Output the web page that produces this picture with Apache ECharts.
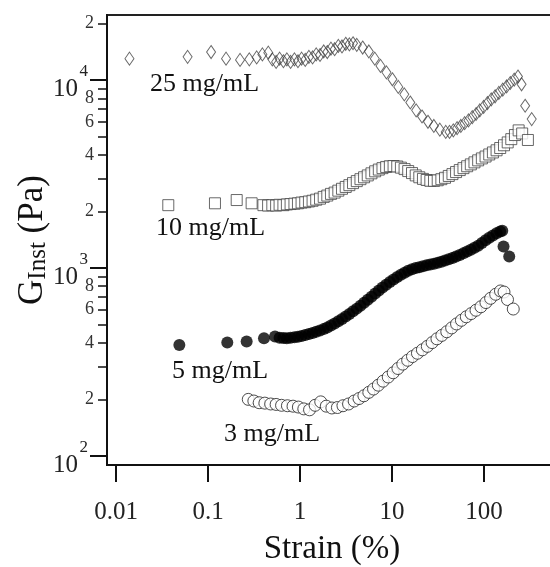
<!DOCTYPE html>
<html>
<head>
<meta charset="utf-8">
<script src="https://cdn.jsdelivr.net/npm/echarts@6/dist/echarts.min.js"></script>
<style>html,body{margin:0;padding:0;background:#fff}#chart{width:550px;height:567px}</style>
</head>
<body>
<div id="chart"></div>
<script>
// ---------- data (strain %, G_Inst Pa) ----------
const strain25 = [0.0140,0.060,0.108,0.157,0.223,0.281,0.338,0.39,0.452,
  0.50,0.55,0.60,0.66,0.72,0.79,0.87,0.95,1.04,1.14,1.25,1.37,1.50,1.65,1.81,1.98,2.17,2.38,2.61,2.86,3.14,3.44,3.77,
  4.14,4.8,5.6,6.5,7.5,8.7,10.1,11.7,13.6,15.8,18.3,21.2,24.6,28.5,33.1,38.4,
  42.2,46.4,51,56,61.6,67.8,74.6,82,90,99,109,120,132,145,160,176,193,213,234,256,280,330];
const g25 = [13000,13300,14100,13000,12800,12900,13200,13700,14000,
  12900,12500,13000,12600,12900,12500,12900,12600,13000,12800,13300,13200,13700,13600,14200,14100,14700,14600,15200,15100,15600,15500,15700,
  15400,14900,14200,13000,11900,11000,10100,9200,8400,7600,6900,6400,6000,5700,5450,5300,
  5300,5400,5550,5700,5900,6100,6350,6600,6900,7200,7550,7900,8200,8550,8900,9250,9650,10050,10450,9500,7300,6200];

const strain10 = [0.037,0.119,0.205,0.298,0.40,
  0.45,0.50,0.55,0.60,0.66,0.72,0.79,0.87,0.95,1.04,1.14,1.25,1.37,1.50,1.65,1.81,1.98,2.17,2.38,2.61,2.86,3.14,3.44,3.77,
  4.14,4.54,4.97,5.45,5.98,6.56,7.19,7.88,8.64,9.48,10.4,11.4,12.5,13.7,15.0,16.5,18.1,19.8,21.7,23.8,26.1,28.6,31.4,34.4,37.7,
  41.4,45.4,49.7,54.5,59.8,65.6,71.9,78.8,86.4,94.8,104,114,125,137,150,165,181,198,217,238,260,300];
const g10 = [2160,2210,2300,2210,2160,
  2150,2160,2150,2170,2160,2180,2190,2200,2210,2230,2240,2260,2280,2310,2340,2390,2430,2480,2520,2580,2640,2700,2760,2830,
  2900,2970,3040,3110,3190,3270,3340,3400,3450,3480,3490,3470,3420,3360,3280,3200,3110,3040,2980,2940,2910,2910,2930,2970,3020,
  3090,3160,3240,3320,3400,3480,3560,3650,3740,3830,3920,4020,4120,4230,4350,4500,4660,4850,5100,5400,5200,4800];

const strain5 = [0.0488,0.162,0.263,0.406,0.535,
  0.60,0.66,0.72,0.79,0.87,0.95,1.04,1.14,1.25,1.37,1.50,1.65,1.81,1.98,2.17,2.38,2.61,2.86,3.14,3.44,3.77,
  4.14,4.54,4.97,5.45,5.98,6.56,7.19,7.88,8.64,9.48,10.4,11.4,12.5,13.7,15.0,16.5,18.1,19.8,21.7,23.8,26.1,28.6,31.4,34.4,37.7,
  41.4,45.4,49.7,54.5,59.8,65.6,71.9,78.8,86.4,94.8,104,114,125,137,150,158,163,188];
const g5 = [389,401,406,423,432,
  425,424,423,425,428,431,435,440,445,451,458,465,473,482,494,507,521,536,552,569,588,
  608,630,653,678,704,731,759,787,815,843,870,896,921,945,966,986,1000,1010,1022,1033,1043,1054,1066,1080,1096,
  1113,1132,1152,1174,1198,1224,1252,1282,1314,1360,1405,1448,1490,1530,1565,1580,1300,1150];

const strain3 = [0.274,0.315,0.36,0.415,0.48,0.55,0.63,0.73,0.84,0.96,1.10,1.27,1.46,1.68,1.93,2.22,2.55,2.93,3.37,3.88,
  4.38,4.95,5.6,6.3,7.1,8.0,9.1,10.3,11.6,13.1,14.8,16.7,18.9,21.4,24.2,27.3,30.8,34.8,39.4,44.5,50.3,56.8,64.2,72.5,81.9,92.6,
  105,118,134,151,165,180,208];
const g3 = [200,196,192,191,189,188,186,185,184,182,178,176,186,194,184,180,181,185,189,196,
  202,209,218,227,238,250,263,277,292,308,323,338,352,367,383,401,420,438,458,480,504,527,550,572,596,622,
  655,690,725,755,745,680,605];

const seriesNames = ['25 mg/mL','10 mg/mL','5 mg/mL','3 mg/mL'];

// ---------- axes ----------
const xRange = [0.00798, 1000];
const yRange = [89.5, 22200];
const xTickValues = [0.01, 0.1, 1, 10, 100];
const xTickLabels = ['0.01', '0.1', '1', '10', '100'];
const yMajorValues = [100, 1000, 10000];
const yMajorBase = ['10', '10', '10'];
const yMajorExps = ['2', '3', '4'];
const yMinorTickValues = [200,300,400,500,600,700,800,900,2000,3000,4000,5000,6000,7000,8000,9000,20000];
const yMinorLabelValues = [200,400,600,800,2000,4000,6000,8000,20000];
const yMinorLabels = ['2','4','6','8','2','4','6','8','2'];

const L = Math.log10;
function pairs(xs, ys) { return xs.map((x, i) => [L(x), L(ys[i])]); }
function lookup(v, vals, labels) {
  for (let i = 0; i < vals.length; i++) if (Math.abs(L(vals[i]) - v) < 1e-6) return labels[i];
  return '';
}
const FONT = '"Liberation Serif", "Times New Roman", serif';

const chart = echarts.init(document.getElementById('chart'), null, {renderer: 'canvas'});
const yBase = {
  type: 'value', min: L(yRange[0]), max: L(yRange[1]), position: 'left',
  splitLine: {show: false}
};
chart.setOption({
  animation: false,
  backgroundColor: '#fff',
  grid: {left: 107, top: 15, right: -26, bottom: 102, containLabel: false, outerBoundsMode: 'none',
         show: true, borderColor: '#222', borderWidth: 2, backgroundColor: 'transparent'},
  xAxis: {
    type: 'value', min: L(xRange[0]), max: L(xRange[1]),
    splitLine: {show: false},
    axisLine: {show: true, onZero: false, lineStyle: {color: '#111', width: 2}},
    axisTick: {show: true, customValues: xTickValues.map(L), length: 17, lineStyle: {color: '#111', width: 2}},
    axisLabel: {customValues: xTickValues.map(L), margin: 35, fontFamily: FONT, fontSize: 25, color: '#222',
      formatter: v => lookup(v, xTickValues, xTickLabels)},
    name: 'Strain (%)', nameLocation: 'middle', nameGap: 68, nameMoveOverlap: false,
    nameTextStyle: {fontFamily: FONT, fontSize: 33, color: '#111', padding: [0, 19, 0, 0]}
  },
  yAxis: [
    Object.assign({}, yBase, {
      axisLine: {show: true, onZero: false, lineStyle: {color: '#111', width: 2}},
      axisTick: {show: true, customValues: yMajorValues.map(L), length: 17, lineStyle: {color: '#111', width: 2}},
      axisLabel: {customValues: yMajorValues.map(L), margin: 29, color: '#222', fontFamily: FONT, fontSize: 25,
        verticalAlign: 'top', lineHeight: 18,
        formatter: v => lookup(v, yMajorValues, yMajorBase)},
      name: '{a|G}{b|Inst}{a| (Pa)}', nameLocation: 'middle', nameGap: 56, nameRotate: 90, nameMoveOverlap: false,
      nameTextStyle: {
        rich: {
          a: {fontFamily: FONT, fontSize: 35, lineHeight: 35, verticalAlign: 'middle', color: '#111', padding: [7, 0, 8, 0]},
          b: {fontFamily: FONT, fontSize: 25, lineHeight: 25, verticalAlign: 'bottom', color: '#111'}
        }
      }
    }),
    Object.assign({}, yBase, {
      axisLine: {show: false, onZero: false},
      axisTick: {show: true, customValues: yMinorTickValues.map(L), length: 9, lineStyle: {color: '#111', width: 1.5}},
      axisLabel: {customValues: yMinorLabelValues.map(L), margin: 13, fontFamily: FONT, fontSize: 18, color: '#333',
        formatter: v => lookup(v, yMinorLabelValues, yMinorLabels)}
    }),
    Object.assign({}, yBase, {
      axisLine: {show: false, onZero: false},
      axisTick: {show: false},
      axisLabel: {customValues: yMajorValues.map(L), margin: 19, fontFamily: FONT, fontSize: 17, color: '#222',
        verticalAlign: 'bottom', lineHeight: 17,
        formatter: v => lookup(v, yMajorValues, yMajorExps)}
    })
  ],
  series: [
    {name: seriesNames[0], type: 'scatter', yAxisIndex: 0, symbol: 'diamond', symbolSize: [9, 13],
     itemStyle: {color: 'transparent', borderColor: '#444', borderWidth: 1}, data: pairs(strain25, g25)},
    {name: seriesNames[1], type: 'scatter', yAxisIndex: 0, symbol: 'rect', symbolSize: 11,
     itemStyle: {color: '#fff', borderColor: '#444', borderWidth: 1}, data: pairs(strain10, g10)},
    {name: seriesNames[2], type: 'scatter', yAxisIndex: 0, symbol: 'circle', symbolSize: 12,
     itemStyle: {color: '#000', borderColor: '#000', borderWidth: 0}, data: pairs(strain5, g5)},
    {name: seriesNames[3], type: 'scatter', yAxisIndex: 0, symbol: 'circle', symbolSize: 12,
     itemStyle: {color: '#fff', borderColor: '#222', borderWidth: 1}, data: pairs(strain3, g3)}
  ].map(s => Object.assign(s, {emphasis: {disabled: true}, silent: true})),
  graphic: [
    {type: 'text', x: 150, y: 84, style: {text: seriesNames[0], font: '26px ' + FONT, fill: '#111', verticalAlign: 'middle', textVerticalAlign: 'middle'}},
    {type: 'text', x: 156, y: 228, style: {text: seriesNames[1], font: '26px ' + FONT, fill: '#111', verticalAlign: 'middle', textVerticalAlign: 'middle'}},
    {type: 'text', x: 172, y: 371, style: {text: seriesNames[2], font: '26px ' + FONT, fill: '#111', verticalAlign: 'middle', textVerticalAlign: 'middle'}},
    {type: 'text', x: 224, y: 434, style: {text: seriesNames[3], font: '26px ' + FONT, fill: '#111', verticalAlign: 'middle', textVerticalAlign: 'middle'}}
  ]
});
</script>
</body>
</html>
